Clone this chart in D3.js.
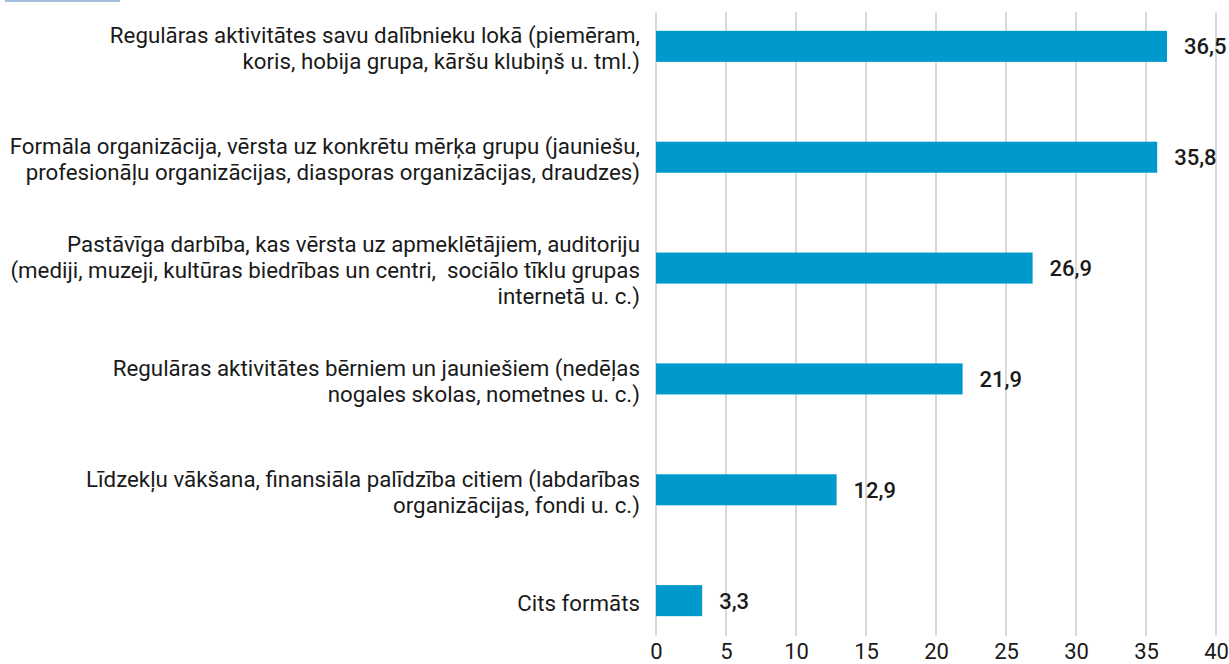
<!DOCTYPE html>
<html>
<head>
<meta charset="utf-8">
<script src="https://cdn.jsdelivr.net/npm/d3@7"></script>
<style>
  html, body { margin: 0; padding: 0; background: #ffffff; }
  svg { display: block; }
</style>
</head>
<body>
<svg id="chart" width="1229" height="664"></svg>
<script>
const categories = [
  ["Regulāras aktivitātes savu dalībnieku lokā (piemēram,", "koris, hobija grupa, kāršu klubiņš u. tml.)"],
  ["Formāla organizācija, vērsta uz konkrētu mērķa grupu (jauniešu,", "profesionāļu organizācijas, diasporas organizācijas, draudzes)"],
  ["Pastāvīga darbība, kas vērsta uz apmeklētājiem, auditoriju", "(mediji, muzeji, kultūras biedrības un centri,  sociālo tīklu grupas", "internetā u. c.)"],
  ["Regulāras aktivitātes bērniem un jauniešiem (nedēļas", "nogales skolas, nometnes u. c.)"],
  ["Līdzekļu vākšana, finansiāla palīdzība citiem (labdarības", "organizācijas, fondi u. c.)"],
  ["Cits formāts"]
];
const values = [36.5, 35.8, 26.9, 21.9, 12.9, 3.3];
const valueLabels = ["36,5", "35,8", "26,9", "21,9", "12,9", "3,3"];
const ticks = [0, 5, 10, 15, 20, 25, 30, 35, 40];

const svg = d3.select("#chart");
const font = "Roboto, 'Noto Sans', sans-serif";

// decorative top-left strip
svg.append("rect").attr("x", 5).attr("y", 0).attr("width", 115).attr("height", 2).attr("fill", "#a3bedc");

const x = d3.scaleLinear().domain([0, 40]).range([656, 1216]);
const y = d3.scaleBand().domain(d3.range(categories.length)).range([12, 635])
  .paddingInner(0.72).paddingOuter(0.17);

// gridlines
svg.append("g").selectAll("line").data(ticks).join("line")
  .attr("x1", d => x(d)).attr("x2", d => x(d))
  .attr("y1", 12).attr("y2", 636)
  .attr("stroke", "#d9d9d9").attr("stroke-width", 2);

// axis labels
const axis = d3.axisBottom(x).tickValues(ticks).tickSize(0).tickPadding(0);
const gAxis = svg.append("g").attr("transform", "translate(0,638)").call(axis);
gAxis.select(".domain").remove();
gAxis.selectAll("text")
  .attr("dy", "0.95em")
  .style("font-family", font).style("font-size", "22px").attr("fill", "#1a1a1a");

// bars
svg.append("g").selectAll("rect").data(values).join("rect")
  .attr("x", x(0)).attr("y", (d, i) => y(i))
  .attr("width", d => x(d) - x(0)).attr("height", y.bandwidth())
  .attr("fill", "#0099cc");

// value labels
svg.append("g").selectAll("text").data(values).join("text")
  .attr("x", d => x(d) + 17)
  .attr("y", (d, i) => y(i) + y.bandwidth() / 2 + 8)
  .text((d, i) => valueLabels[i])
  .style("font-family", font).style("font-size", "22px").style("font-weight", 500)
  .attr("fill", "#1a1a1a");

// category labels
const gl = svg.append("g");
categories.forEach((lines, i) => {
  const c = y(i) + y.bandwidth() / 2;
  const first = c + 10 - 13 * (lines.length - 1);
  const t = gl.append("text").attr("text-anchor", "end")
    .style("white-space", "pre")
    .style("font-family", font).style("font-size", "22.3px").attr("fill", "#1a1a1a");
  lines.forEach((ln, j) => {
    t.append("tspan").attr("x", 640).attr("y", first + j * 26).text(ln);
  });
});
</script>
</body>
</html>
